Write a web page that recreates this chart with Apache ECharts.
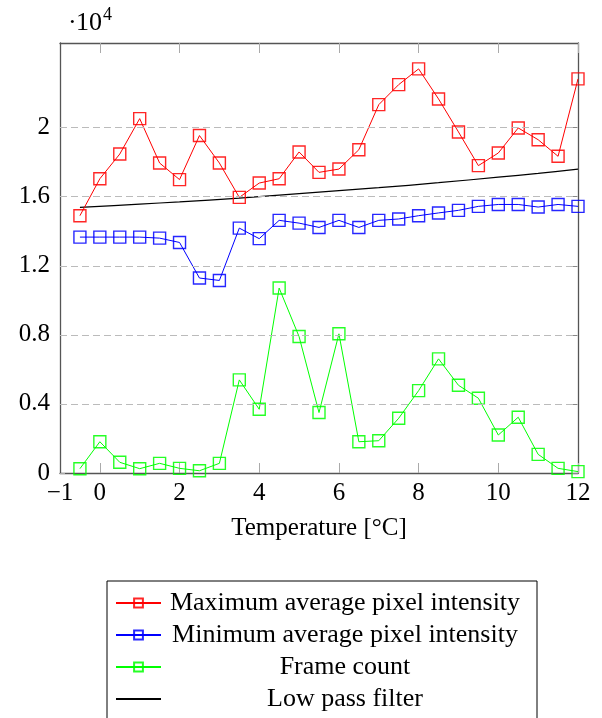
<!DOCTYPE html>
<html>
<head>
<meta charset="utf-8">
<script src="https://cdn.jsdelivr.net/npm/echarts@6/dist/echarts.min.js"></script>
<style>
  html, body { margin: 0; padding: 0; background: #fff; }
  #chart { width: 602px; height: 718px; }
</style>
</head>
<body>
<div id="chart"></div>
<script>
// temperatures (x) for the three measured series
let temps = [-0.5, 0, 0.5, 1, 1.5, 2, 2.5, 3, 3.5, 4, 4.5, 5, 5.5, 6, 6.5, 7, 7.5, 8, 8.5, 9, 9.5, 10, 10.5, 11, 11.5, 12];

// values
let maxIntensity = [14900, 17040, 18470, 20520, 17950, 16990, 19540, 17950, 15960, 16790, 17040, 18590,
    17410, 17600, 18720, 21330, 22490, 23400, 21660, 19750, 17800, 18530, 19980, 19300, 18340, 22820];
let minIntensity = [13660, 13660, 13660, 13660, 13600, 13350, 11290, 11150, 14180, 13570, 14630, 14470,
    14220, 14630, 14220, 14630, 14710, 14900, 15060, 15210, 15440, 15550, 15550, 15400, 15550, 15440];
let frameCount = [250, 1810, 620, 250, 560, 270, 130, 560, 5390, 3690, 10710, 7900,
    3500, 8060, 1810, 1870, 3170, 4770, 6610, 5080, 4330, 2200, 3230, 1080, 270, 80];

// low pass filter curve
let lowPassX = [-0.5, 1, 2, 3.5, 5.5, 7, 8.5, 10, 11, 12];
let lowPassY = [15380, 15570, 15700, 15920, 16270, 16520, 16810, 17130, 17350, 17600];

let yTicks = [0, 4000, 8000, 12000, 16000, 20000];
let xTicks = [0, 2, 4, 6, 8, 10, 12];
let xLabels = [-1, 0, 2, 4, 6, 8, 10, 12];

let legendNames = ['Maximum average pixel intensity', 'Minimum average pixel intensity', 'Frame count', 'Low pass filter'];

function pairs(xs, ys) {
    return xs.map(function (x, i) { return [x, ys[i]]; });
}

let FONT = 'Liberation Serif';

function markedSeries(name, values, color) {
    return {
        name: name,
        type: 'line',
        data: pairs(temps, values),
        symbol: 'rect',
        symbolSize: 12,
        lineStyle: { color: color, width: 1 },
        itemStyle: { color: 'rgba(255,255,255,0)', borderColor: color, borderWidth: 1.4, opacity: 0.85 },
        emphasis: { disabled: true },
        z: 3
    };
}

let chart = echarts.init(document.getElementById('chart'));

let option = {
    animation: false,
    backgroundColor: '#fff',
    grid: { left: 60, right: 24, top: 43, bottom: 245 },
    textStyle: { fontFamily: FONT },
    xAxis: [
        {
            type: 'value',
            min: -1,
            max: 12,
            position: 'bottom',
            axisLine: { onZero: false, lineStyle: { color: '#555', width: 1.3 } },
            axisTick: { inside: true, length: 10, customValues: xTicks, lineStyle: { color: '#aaa', width: 1 } },
            axisLabel: {
                customValues: xLabels,
                margin: 8,
                color: '#000',
                fontFamily: FONT,
                fontSize: 25,
                formatter: function (v) { return v < 0 ? '\u2212' + Math.abs(v) : String(v); }
            },
            splitLine: { show: false },
            name: 'Temperature [°C]',
            nameLocation: 'middle',
            nameGap: 43,
            nameTextStyle: { color: '#000', fontFamily: FONT, fontSize: 25 }
        },
        {
            type: 'value',
            min: -1,
            max: 12,
            position: 'top',
            axisLine: { onZero: false, lineStyle: { color: '#555', width: 1.3 } },
            axisTick: { inside: true, length: 10, customValues: xTicks, lineStyle: { color: '#aaa', width: 1 } },
            axisLabel: { show: false },
            splitLine: { show: false }
        }
    ],
    yAxis: [
        {
            type: 'value',
            min: 0,
            max: 24900,
            position: 'left',
            axisLine: { show: true, onZero: false, lineStyle: { color: '#555', width: 1.3 } },
            axisTick: { show: true, inside: true, length: 5, customValues: yTicks, lineStyle: { color: '#aaa' } },
            axisLabel: {
                customValues: yTicks,
                margin: 10,
                color: '#000',
                fontFamily: FONT,
                fontSize: 25,
                formatter: function (v) { return String(v / 10000); }
            },
            splitLine: { show: false }
        },
        {
            type: 'value',
            min: 0,
            max: 24900,
            position: 'right',
            axisLine: { show: true, onZero: false, lineStyle: { color: '#555', width: 1.3 } },
            axisTick: { show: true, inside: true, length: 6, customValues: yTicks, lineStyle: { color: '#888' } },
            axisLabel: { show: false },
            splitLine: { show: false }
        }
    ],
    legend: {
        orient: 'vertical',
        left: 107,
        top: 581,
        height: 200,
        padding: [9, 13, 12, 8],
        itemGap: 6,
        itemWidth: 45,
        itemHeight: 11,
        borderColor: '#000',
        borderWidth: 1,
        borderRadius: 0,
        backgroundColor: '#fff',
        selectedMode: false,
        data: legendNames,
        formatter: function (name) { return '{c|' + name + '}'; },
        textStyle: {
            color: '#000',
            fontFamily: FONT,
            fontSize: 26,
            rich: { c: { width: 358, align: 'center', fontFamily: FONT, fontSize: 26, lineHeight: 26 } }
        }
    },
    graphic: [
        { type: 'text', left: 68, top: 10, style: { text: '\u00b7', font: '26px "Liberation Serif"', fill: '#000' } },
        { type: 'text', left: 76, top: 10, style: { text: '10', font: '26px "Liberation Serif"', fill: '#000' } },
        { type: 'text', left: 103, top: 6, style: { text: '4', font: '18px "Liberation Serif"', fill: '#000' } }
    ],
    series: [
        {
            // dashed horizontal grid
            type: 'line',
            data: [],
            silent: true,
            markLine: {
                silent: true,
                symbol: 'none',
                label: { show: false },
                lineStyle: { color: '#bbb', type: [7, 4], width: 1 },
                data: yTicks.slice(1).map(function (v) { return { yAxis: v }; })
            },
            z: 1
        },
        markedSeries(legendNames[0], maxIntensity, '#ff0000'),
        markedSeries(legendNames[1], minIntensity, '#0000ff'),
        markedSeries(legendNames[2], frameCount, '#00ff00'),
        {
            name: legendNames[3],
            type: 'line',
            data: pairs(lowPassX, lowPassY),
            smooth: 0.3,
            symbol: 'none',
            lineStyle: { color: '#000', width: 1.2 },
            itemStyle: { color: 'rgba(0,0,0,0)', borderWidth: 0 },
            emphasis: { disabled: true },
            z: 2
        }
    ]
};

chart.setOption(option);
</script>
</body>
</html>
